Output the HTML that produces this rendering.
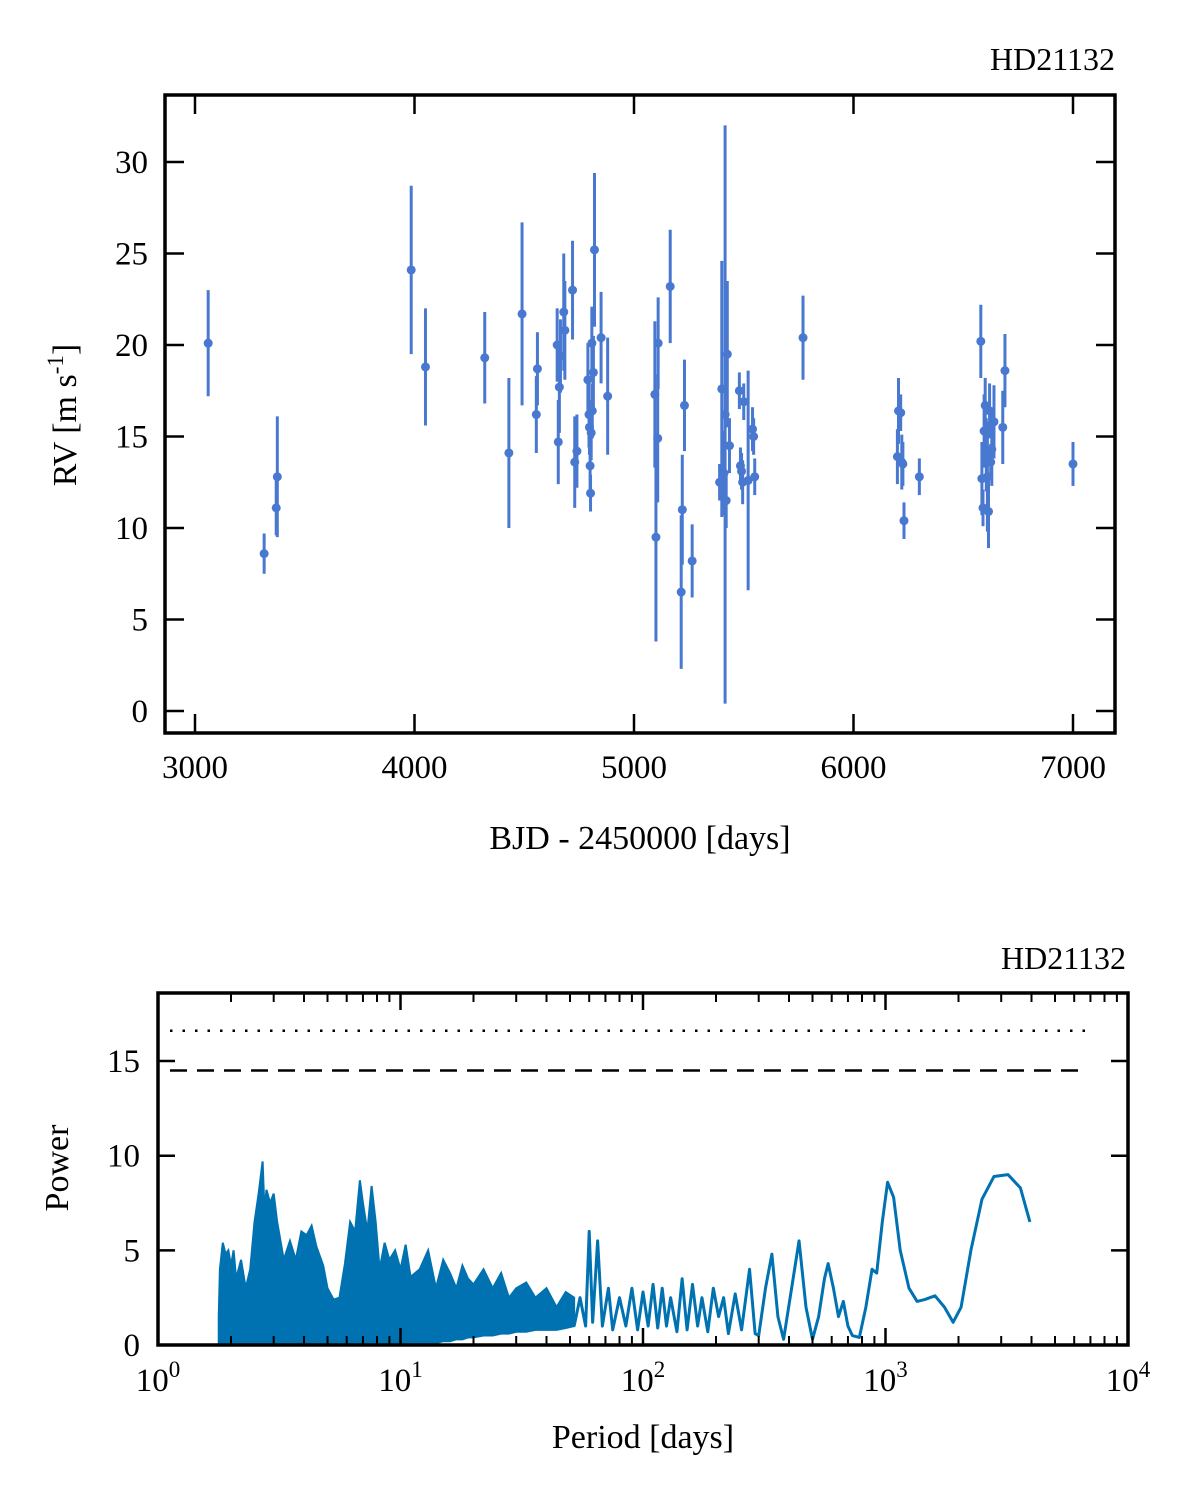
<!DOCTYPE html>
<html><head><meta charset="utf-8"><style>
body{margin:0;background:#fff;width:1200px;height:1502px;overflow:hidden}
svg text{font-family:"Liberation Serif","DejaVu Serif",serif;fill:#000}
</style></head><body>
<svg id="fig" width="1200" height="1502" viewBox="0 0 1200 1502" xmlns="http://www.w3.org/2000/svg">
<g id="top"></g>
<g id="bot"></g>
</svg>
<script>
// ---- RV data ----
const rvTime=[3060,3315,3370,3375,3985,4050,4320,4430,4490,4555,4560,4650,4655,4660,4665,4680,4685,4720,4730,4740,4790,4795,4797,4800,4802,4805,4808,4810,4815,4820,4850,4880,5095,5100,5108,5110,5165,5215,5220,5230,5265,5390,5400,5410,5415,5420,5425,5435,5480,5485,5490,5495,5500,5520,5540,5545,5550,5770,6200,6205,6215,6220,6225,6230,6300,6580,6585,6590,6595,6600,6605,6610,6615,6620,6625,6630,6640,6680,6690,7000];
const rvValue=[20.1,8.6,11.1,12.8,24.1,18.8,19.3,14.1,21.7,16.2,18.7,20.0,14.7,17.7,19.4,21.8,20.8,23.0,13.6,14.2,18.1,16.2,15.5,13.4,11.9,15.2,20.1,16.4,18.5,25.2,20.4,17.2,17.3,9.5,14.9,20.1,23.2,6.5,11.0,16.7,8.2,12.5,17.6,13.0,16.2,11.5,19.5,14.5,17.5,13.4,13.1,12.5,16.9,12.6,15.4,15.0,12.8,20.4,13.9,16.4,16.3,13.6,13.5,10.4,12.8,20.2,12.7,11.1,15.3,16.7,14.0,12.8,10.9,16.4,13.6,14.3,15.8,15.5,18.6,13.5];
const rvErr=[2.9,1.1,1.5,3.3,4.6,3.2,2.5,4.1,5.0,2.1,2.0,2.0,2.3,2.5,2.0,3.2,2.7,2.7,2.5,2.0,2.0,1.8,1.5,1.5,1.0,1.5,2.0,1.5,2.0,4.2,2.5,3.2,4.0,5.7,3.5,2.5,3.1,4.2,3.0,2.5,2.0,1.0,7.0,2.3,15.8,1.5,4.0,1.5,1.0,1.0,1.0,1.2,1.0,6.0,1.2,1.0,1.0,2.3,1.5,1.8,1.0,1.5,1.2,1.0,1.0,2.0,2.0,1.0,2.0,1.5,2.0,3.0,2.0,1.5,1.0,2.0,2.0,2.0,2.0,1.2];
const rvXTicks=[3000,4000,5000,6000,7000];
const rvYTicks=[0,5,10,15,20,25,30];
// ---- Periodogram data ----
const envPeriod=[1.78,1.8,1.85,1.9,1.95,2.0,2.05,2.1,2.2,2.3,2.4,2.5,2.6,2.7,2.75,2.8,2.9,3.0,3.1,3.2,3.3,3.5,3.7,3.9,4.1,4.3,4.5,4.8,5.0,5.3,5.6,5.9,6.2,6.5,6.8,7.0,7.3,7.6,7.9,8.2,8.6,9.0,9.5,10,10.5,11,12,13,14,15,16,17,18,19,20,22,24,26,28,30,33,36,40,44,48,52];
const envHigh=[1.5,4.0,5.4,4.8,5.0,4.2,5.0,3.5,4.5,3.0,4.0,6.5,8.0,9.7,7.0,8.2,7.5,8.0,6.5,5.5,4.5,5.5,4.5,6.0,5.8,6.3,5.2,4.2,3.0,2.4,2.5,4.3,6.5,6.0,8.7,7.5,6.0,8.4,6.5,4.0,5.4,4.5,5.0,4.0,5.3,3.6,4.0,5.0,3.0,4.5,3.8,3.0,4.2,3.5,3.2,4.0,3.0,3.8,2.5,3.0,3.3,2.5,3.0,2.0,2.8,2.5];
const envLow=[0,0,0,0,0,0,0,0,0,0,0,0,0,0,0,0,0,0,0,0,0,0,0,0,0,0,0,0,0,0,0,0,0,0,0,0,0,0,0,0,0,0,0,0,0,0,0,0,0.1,0.2,0.2,0.3,0.3,0.4,0.4,0.5,0.5,0.6,0.6,0.7,0.7,0.8,0.8,0.8,0.9,1.0];
const linePeriod=[52,55,58,60,62,65,68,72,75,80,85,90,95,100,105,110,115,120,125,130,138,145,152,160,168,175,185,195,205,215,225,240,255,275,290,300,320,340,360,380,410,440,470,500,530,560,580,610,640,670,700,730,780,830,880,920,970,1020,1080,1150,1250,1350,1450,1600,1750,1900,2050,2250,2500,2800,3200,3600,3940];
const linePower=[1.0,2.5,1.0,6.0,1.2,5.5,1.0,3.0,0.8,2.5,1.0,3.0,0.8,2.8,1.0,3.2,0.9,3.0,1.0,2.5,0.7,3.5,0.8,3.2,1.0,2.5,0.7,3.0,1.5,2.5,0.6,2.7,0.8,4.0,0.6,0.5,3.0,4.8,1.5,0.3,3.0,5.5,2.0,0.3,1.5,3.5,4.3,3.0,1.5,2.3,1.0,0.5,0.4,2.0,4.0,3.8,6.5,8.6,7.8,5.0,3.0,2.3,2.4,2.6,2.0,1.2,2.0,5.0,7.7,8.9,9.0,8.3,6.5];
const fapLevels=[16.6,14.5];
const pgYTicks=[0,5,10,15];
const pgXExp=[0,1,2,3,4];

const NS="http://www.w3.org/2000/svg";
function mk(parent,tag,attrs,txt){const e=document.createElementNS(NS,tag);for(const k in attrs)e.setAttribute(k,attrs[k]);if(txt!==undefined)e.textContent=txt;parent.appendChild(e);return e;}

// ---- top panel ----
const T=document.getElementById('top');
const tx=v=>195+(v-3000)*0.2195;
const ty=v=>711-v*18.3;
const tL=165,tR=1115,tT=95,tB=733;
let e=mk(T,'text',{x:1115,y:70,'text-anchor':'end','font-size':32},'HD21132');


for(let i=0;i<rvTime.length;i++){
  const g=mk(T,'g',{});
  
  
  mk(g,'line',{x1:tx(rvTime[i]),x2:tx(rvTime[i]),y1:ty(rvValue[i]-rvErr[i]),y2:ty(rvValue[i]+rvErr[i]),stroke:'#4878CF','stroke-width':3});
  mk(g,'circle',{cx:tx(rvTime[i]),cy:ty(rvValue[i]),r:4.5,fill:'#4878CF'});
}
for(const v of rvXTicks){
  const x=tx(v);
  mk(T,'line',{x1:x,x2:x,y1:tB,y2:tB-19,stroke:'#000','stroke-width':2.5});
  mk(T,'line',{x1:x,x2:x,y1:tT,y2:tT+19,stroke:'#000','stroke-width':2.5});
  e=mk(T,'text',{x:x,y:778,'text-anchor':'middle','font-size':33},String(v));
  
  
}
for(const v of rvYTicks){
  const y=ty(v);
  mk(T,'line',{x1:tL,x2:tL+19,y1:y,y2:y,stroke:'#000','stroke-width':2.5});
  mk(T,'line',{x1:tR,x2:tR-19,y1:y,y2:y,stroke:'#000','stroke-width':2.5});
  e=mk(T,'text',{x:148,y:y+11,'text-anchor':'end','font-size':33},String(v));
  
  
}
e=mk(T,'rect',{x:tL,y:tT,width:tR-tL,height:tB-tT,fill:'none',stroke:'#000','stroke-width':3.5});


e=mk(T,'text',{x:640,y:849,'text-anchor':'middle','font-size':34},'BJD - 2450000 [days]');


e=mk(T,'text',{transform:'translate(76,415) rotate(-90)','text-anchor':'middle','font-size':34});


e.innerHTML='RV [m s<tspan dy="-13" font-size="23">-1</tspan><tspan dy="13">]</tspan>';

// ---- bottom panel ----
const B=document.getElementById('bot');
const bL=158,bR=1128,bT=993,bB=1345;
const px=p=>bL+Math.log10(p)*242.5;
const py=v=>bB-v*18.93;
e=mk(B,'text',{x:1126,y:969,'text-anchor':'end','font-size':32},'HD21132');


let d='';
for(let i=0;i<envPeriod.length;i++)d+=(i?'L':'M')+px(envPeriod[i])+','+py(envHigh[i]);
for(let i=envPeriod.length-1;i>=0;i--)d+='L'+px(envPeriod[i])+','+py(envLow[i]);
e=mk(B,'path',{d:d+'Z',fill:'#0072B2',stroke:'#0072B2','stroke-width':2});


let d2='';
for(let i=0;i<linePeriod.length;i++)d2+=(i?'L':'M')+px(linePeriod[i])+','+py(linePower[i]);
e=mk(B,'path',{d:d2,fill:'none',stroke:'#0072B2','stroke-width':3,'stroke-linejoin':'round'});


e=mk(B,'line',{x1:170,x2:1085,y1:py(fapLevels[0]),y2:py(fapLevels[0]),stroke:'#000','stroke-width':2.5,'stroke-dasharray':'2.5 10'});


e=mk(B,'line',{x1:170,x2:1085,y1:py(fapLevels[1]),y2:py(fapLevels[1]),stroke:'#000','stroke-width':2.5,'stroke-dasharray':'17 10'});


for(const k of pgXExp){
  const x=px(Math.pow(10,k));
  mk(B,'line',{x1:x,x2:x,y1:bB,y2:bB-17,stroke:'#000','stroke-width':2.5});
  mk(B,'line',{x1:x,x2:x,y1:bT,y2:bT+17,stroke:'#000','stroke-width':2.5});
  e=mk(B,'text',{x:x,y:1391,'text-anchor':'middle','font-size':33});
  
  
  e.innerHTML='10<tspan dy="-14" font-size="23">'+k+'</tspan>';
  if(k<4)for(let m=2;m<=9;m++){
    const xm=px(m*Math.pow(10,k));
    mk(B,'line',{x1:xm,x2:xm,y1:bB,y2:bB-9,stroke:'#000','stroke-width':2});
    mk(B,'line',{x1:xm,x2:xm,y1:bT,y2:bT+9,stroke:'#000','stroke-width':2});
  }
}
for(const v of pgYTicks){
  const y=py(v);
  mk(B,'line',{x1:bL,x2:bL+17,y1:y,y2:y,stroke:'#000','stroke-width':2.5});
  mk(B,'line',{x1:bR,x2:bR-17,y1:y,y2:y,stroke:'#000','stroke-width':2.5});
  e=mk(B,'text',{x:140,y:y+11,'text-anchor':'end','font-size':33},String(v));
  
  
}
e=mk(B,'rect',{x:bL,y:bT,width:bR-bL,height:bB-bT,fill:'none',stroke:'#000','stroke-width':3.5});


e=mk(B,'text',{x:643,y:1448,'text-anchor':'middle','font-size':34},'Period [days]');


e=mk(B,'text',{transform:'translate(68,1168) rotate(-90)','text-anchor':'middle','font-size':34},'Power');


</script>
</body></html>
